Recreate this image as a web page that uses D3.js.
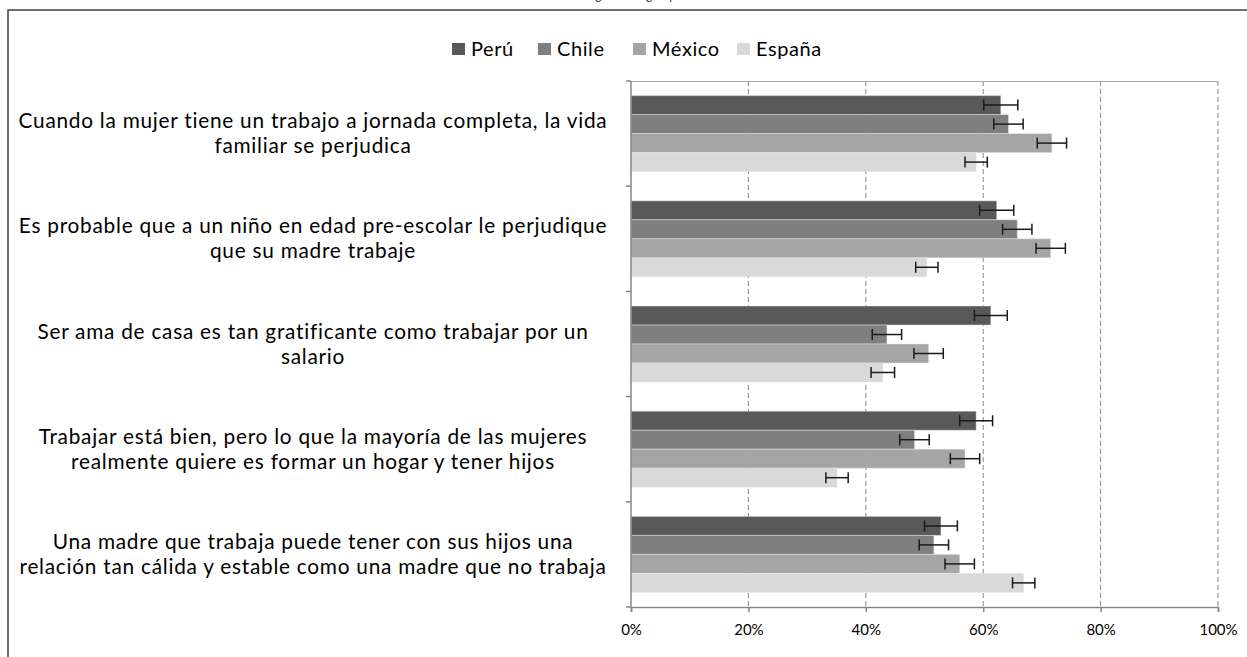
<!DOCTYPE html>
<html><head><meta charset="utf-8">
<script src="https://cdn.jsdelivr.net/npm/d3@7"></script>
<style>body{margin:0;background:#fff}svg{display:block}</style>
</head><body>
<svg id="c" width="1247" height="657"></svg>
<script>
const categories = [
  ["Cuando la mujer tiene un trabajo a jornada completa, la vida", "familiar se perjudica"],
  ["Es probable que a un niño en edad pre-escolar le perjudique", "que su madre trabaje"],
  ["Ser ama de casa es tan gratificante como trabajar por un", "salario"],
  ["Trabajar está bien, pero lo que la mayoría de las mujeres", "realmente quiere es formar un hogar y tener hijos"],
  ["Una madre que trabaja puede tener con sus hijos una", "relación tan cálida y estable como una madre que no trabaja"]
];
const seriesNames = ["Perú", "Chile", "México", "España"];
const seriesColors = ["#595959", "#7f7f7f", "#a5a5a5", "#d9d9d9"];
const peru   = [0.630, 0.623, 0.613, 0.588, 0.528];
const chile  = [0.643, 0.658, 0.436, 0.483, 0.516];
const mexico = [0.717, 0.715, 0.507, 0.569, 0.560];
const espana = [0.588, 0.504, 0.429, 0.351, 0.669];
const errPeru   = [0.029, 0.029, 0.028, 0.028, 0.028];
const errChile  = [0.025, 0.025, 0.025, 0.025, 0.025];
const errMexico = [0.025, 0.025, 0.025, 0.025, 0.025];
const errEspana = [0.019, 0.019, 0.020, 0.019, 0.019];
const xTicks = [0, 0.2, 0.4, 0.6, 0.8, 1.0];
const titleText = "Roles de género según país";

const values = [peru, chile, mexico, espana];
const errors = [errPeru, errChile, errMexico, errEspana];

const svg = d3.select("#c");
const FONT = "Lato, 'Noto Sans', sans-serif";
const L = 631, R = 1218, T = 81, B = 607;

// outer frame
svg.append("rect").attr("x", 8).attr("y", 10).attr("width", 1300).attr("height", 800)
  .attr("fill", "none").attr("stroke", "#404040").attr("stroke-width", 1.5);

// clipped title (cut off at the top edge as in the original)
svg.append("text").attr("x", 620).attr("y", 0).attr("text-anchor", "middle")
  .attr("font-family", FONT).attr("font-size", 13).attr("font-style", "italic")
  .attr("fill", "#404040").text(titleText);

const x = d3.scaleLinear().domain([0, 1]).range([L, R]);
const catIdx = d3.range(categories.length);
const y0 = d3.scaleBand().domain(catIdx).range([T, B]).padding(0);
const y1 = d3.scaleBand().domain(d3.range(seriesNames.length)).range([0, y0.bandwidth()])
  .paddingInner(0).paddingOuter(0.77);

// gridlines
svg.append("g").selectAll("line").data(xTicks.slice(1)).join("line")
  .attr("x1", d => x(d)).attr("x2", d => x(d)).attr("y1", T).attr("y2", B)
  .attr("stroke", "#868686").attr("stroke-width", 1).attr("stroke-dasharray", "5,3");
// plot top border
svg.append("line").attr("x1", L).attr("x2", R).attr("y1", T + 0.5).attr("y2", T + 0.5)
  .attr("stroke", "#a6a6a6").attr("stroke-width", 1);

// bars
const gBars = svg.append("g");
catIdx.forEach(ci => {
  seriesNames.forEach((s, si) => {
    const v = values[si][ci];
    const yy = y0(ci) + y1(si);
    gBars.append("rect").attr("x", x(0)).attr("y", yy)
      .attr("width", x(v) - x(0)).attr("height", y1.bandwidth())
      .attr("fill", seriesColors[si]).attr("stroke", "#e6e6e6").attr("stroke-opacity", 0.45).attr("stroke-width", 1);
  });
});
// error bars
const gErr = svg.append("g").attr("stroke", "#1a1a1a").attr("stroke-width", 1.5);
catIdx.forEach(ci => {
  seriesNames.forEach((s, si) => {
    const v = values[si][ci], e = errors[si][ci];
    const cy = y0(ci) + y1(si) + y1.bandwidth() / 2;
    gErr.append("line").attr("x1", x(v - e)).attr("x2", x(v + e)).attr("y1", cy).attr("y2", cy);
    [v - e, v + e].forEach(p => gErr.append("line").attr("x1", x(p)).attr("x2", x(p))
      .attr("y1", cy - 5.5).attr("y2", cy + 5.5));
  });
});

// x axis
const xAxis = d3.axisBottom(x).tickValues(xTicks).tickFormat(d3.format(".0%")).tickSize(5).tickPadding(12);
const gx = svg.append("g").attr("transform", `translate(0,${B})`).call(xAxis);
gx.select(".domain").attr("stroke", "#868686").attr("stroke-width", 1.5);
gx.selectAll(".tick line").attr("stroke", "#868686").attr("stroke-width", 1.5);
gx.selectAll(".tick text").attr("font-family", FONT).attr("font-size", 15).attr("fill", "#000");

// y axis line + category boundary ticks
svg.append("line").attr("x1", L).attr("x2", L).attr("y1", T).attr("y2", B)
  .attr("stroke", "#868686").attr("stroke-width", 1.5);
svg.append("g").selectAll("line").data(d3.range(categories.length + 1)).join("line")
  .attr("x1", L - 5).attr("x2", L)
  .attr("y1", d => T + d * y0.step()).attr("y2", d => T + d * y0.step())
  .attr("stroke", "#868686").attr("stroke-width", 1.5);

// category labels
const gLab = svg.append("g");
catIdx.forEach(ci => {
  const lines = categories[ci];
  const cy = y0(ci) + y0.bandwidth() / 2;
  lines.forEach((ln, i) => {
    gLab.append("text").attr("x", 313).attr("text-anchor", "middle")
      .attr("font-family", FONT).attr("font-size", 20.8).attr("letter-spacing", 0.75)
      .attr("fill", "#000")
      .attr("y", cy + (i - (lines.length - 1) / 2) * 25 + 7).text(ln);
  });
});

// legend
const legendX = [452, 538, 633, 737];
const gLeg = svg.append("g");
seriesNames.forEach((s, si) => {
  gLeg.append("rect").attr("x", legendX[si]).attr("y", 43).attr("width", 13).attr("height", 12)
    .attr("fill", seriesColors[si]);
  gLeg.append("text").attr("x", legendX[si] + 19).attr("y", 56)
    .attr("font-family", FONT).attr("font-size", 20).attr("letter-spacing", 0.6)
    .attr("fill", "#000").text(s);
});
</script>
</body></html>
